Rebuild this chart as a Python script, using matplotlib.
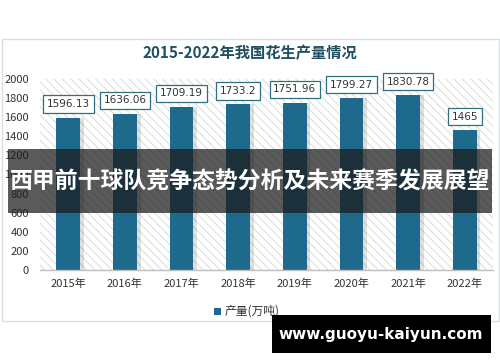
import matplotlib.pyplot as plt
from matplotlib.patches import Rectangle

plt.rcParams['font.family'] = ['Noto Sans CJK SC', 'DejaVu Sans']
plt.rcParams['hatch.color'] = '#d6d6d6'
plt.rcParams['hatch.linewidth'] = 0.6

# === Данные ===
years = ["2015年", "2016年", "2017年", "2018年", "2019年", "2020年", "2021年", "2022年"]
output = [1596.13, 1636.06, 1709.19, 1733.2, 1751.96, 1799.27, 1830.78, 1465]
value_labels = ["1596.13", "1636.06", "1709.19", "1733.2", "1751.96", "1799.27", "1830.78", "1465"]
y_ticks = [0, 200, 400, 600, 800, 1000, 1200, 1400, 1600, 1800, 2000]

BAR_COLOR = '#1e6a8d'
TEXT_COLOR = '#333333'

fig = plt.figure(figsize=(5, 3.62), dpi=100)
fig.patch.set_facecolor('white')

# рамка диаграммы
fig.patches.append(Rectangle((0.003, 1 - 321 / 362), 0.994, 282 / 362, transform=fig.transFigure,
                             facecolor='white', edgecolor='#d9dde5', linewidth=1.0, zorder=-5))

ax = fig.add_axes([0.08, 0.254, 0.906, 0.528])
ax.set_xlim(-0.5, len(years) - 0.5)
ax.set_ylim(0, 2000)
ax.patch.set_alpha(0)

# штриховка фона
ax.add_patch(Rectangle((-0.5, 0), len(years), 2000, facecolor='white', edgecolor='#d6d6d6',
                       hatch='\\\\\\\\', linewidth=0, zorder=0))

x = list(range(len(years)))
# тень столбцов
ax.bar([i + 0.06 for i in x], output, width=0.43, color='#000000', alpha=0.12, zorder=1)
ax.bar(x, output, width=0.42, color=BAR_COLOR, zorder=2)

for i, (v, lab) in enumerate(zip(output, value_labels)):
    ax.text(i, v + 140, lab, ha='center', va='center', fontsize=7.5, color=TEXT_COLOR,
            family='DejaVu Sans',
            bbox=dict(boxstyle='square,pad=0.35', facecolor='white', edgecolor='#2e6f84', linewidth=0.9),
            zorder=3)

for s in ['top', 'right', 'left']:
    ax.spines[s].set_visible(False)
ax.spines['bottom'].set_color('#bfbfbf')
ax.spines['bottom'].set_linewidth(1.0)
ax.set_yticks(y_ticks)
ax.set_yticklabels([str(t) for t in y_ticks], fontsize=8, color=TEXT_COLOR)
ax.set_xticks(x)
ax.set_xticklabels(years, fontsize=8, color=TEXT_COLOR)
ax.tick_params(axis='both', length=0, pad=6)
ax.tick_params(axis='y', pad=8)

fig.text(0.5, 1 - 53 / 362, "2015-2022年我国花生产量情况", ha='center', va='center',
         fontsize=11, fontweight='bold', color='#1f4f60')

# легенда
fig.patches.append(Rectangle((214 / 500, 1 - 315 / 362), 7 / 500, 7 / 362, transform=fig.transFigure,
                             facecolor=BAR_COLOR, edgecolor='none'))
fig.text(225 / 500, 1 - 311 / 362, "产量(万吨)", ha='left', va='center', fontsize=8.5, color=TEXT_COLOR)

# баннер поверх
fig.patches.append(Rectangle((8 / 500, 1 - 213 / 362), 484 / 500, 64 / 362, transform=fig.transFigure,
                             facecolor='#1a1a1a', edgecolor='none', alpha=0.72, zorder=10))
fig.text(0.5, 1 - 182 / 362, "西甲前十球队竞争态势分析及未来赛季发展展望", ha='center', va='center',
         fontsize=16.5, fontweight='bold', color='white', zorder=11)

# водяной знак
fig.patches.append(Rectangle((272 / 500, 1 - 353 / 362), 219 / 500, 38 / 362, transform=fig.transFigure,
                             facecolor='black', edgecolor='none', zorder=10))
fig.text(381 / 500, 1 - 335 / 362, "www.guoyu-kaiyun.com", ha='center', va='center',
         fontsize=11, fontweight='bold', color='white', family='DejaVu Sans', zorder=11)

plt.savefig("out.png", dpi=100)
